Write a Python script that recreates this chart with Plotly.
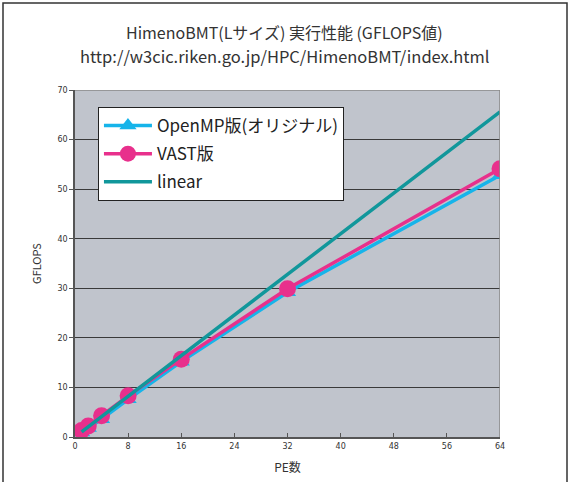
import plotly.graph_objects as go

pe = [1, 2, 4, 8, 16, 32, 64]
openmp = [0.9, 1.8, 3.6, 7.6, 15.2, 29.2, 52.8]
vast = [1.3, 2.2, 4.3, 8.3, 15.7, 29.9, 54.1]
linear = [1.03, 2.05, 4.1, 8.2, 16.4, 32.8, 65.6]
x_ticks = [0, 8, 16, 24, 32, 40, 48, 56, 64]
y_ticks = [0, 10, 20, 30, 40, 50, 60, 70]

FONT = "Noto Sans CJK JP"

fig = go.Figure()
fig.add_trace(go.Scatter(
    x=pe, y=openmp, name="OpenMP版(オリジナル)", mode="lines+markers",
    legendgroup="a",
    line=dict(color="#16b4ea", width=3.5),
    marker=dict(symbol="triangle-up", size=15, color="#16b4ea"),
))
fig.add_trace(go.Scatter(
    x=pe, y=vast, name="VAST版", mode="lines+markers",
    legendgroup="b",
    line=dict(color="#e8308c", width=3.5),
    marker=dict(symbol="circle", size=17, color="#e8308c"),
))
fig.add_trace(go.Scatter(
    x=pe, y=linear, name="linear", mode="lines",
    legendgroup="c",
    line=dict(color="#11979b", width=3.5),
))

fig.update_layout(
    width=569, height=482,
    margin=dict(l=75, r=69, t=90, b=45),
    paper_bgcolor="white",
    plot_bgcolor="#c0c4cc",
    font=dict(family=FONT, color="#222"),
    showlegend=True,
    legend=dict(
        x=0.054, y=0.951, xanchor="left", yanchor="top",
        bgcolor="white", bordercolor="#222", borderwidth=1,
        font=dict(size=17, family=FONT, color="#222"),
        tracegroupgap=3, itemwidth=48,
    ),
    xaxis=dict(
        range=[0, 64], tickvals=x_ticks, ticktext=[str(v) for v in x_ticks],
        showgrid=False, zeroline=False, automargin=False,
        showline=True, linecolor="#555", linewidth=2, mirror=False,
        ticks="inside", ticklen=4, tickcolor="#555",
        tickfont=dict(size=8, color="#333", family="DejaVu Sans"),
        title=dict(text="PE数", font=dict(size=12, color="#333"), standoff=14),
    ),
    yaxis=dict(
        range=[0, 70], tickvals=y_ticks, ticktext=[str(v) for v in y_ticks],
        showgrid=True, gridcolor="#3a3a3a", gridwidth=1.2, zeroline=False,
        automargin=False,
        showline=True, linecolor="#555", linewidth=1.5,
        ticks="outside", ticklen=4, tickcolor="#555",
        tickfont=dict(size=8, color="#333", family="DejaVu Sans"),
        title=dict(text="GFLOPS", font=dict(size=11, color="#333"), standoff=14),
    ),
    annotations=[
        dict(text="HimenoBMT(Lサイズ) 実行性能 (GFLOPS値)", xref="paper", yref="paper",
             x=0.5, y=1, xanchor="center", yanchor="middle", yshift=58,
             xshift=-(75 - 69) / 2,
             showarrow=False, font=dict(size=16, color="#333", family=FONT)),
        dict(text="http://w3cic.riken.go.jp/HPC/HimenoBMT/index.html", xref="paper", yref="paper",
             x=0.5, y=1, xanchor="center", yanchor="middle", yshift=34,
             xshift=-(75 - 69) / 2,
             showarrow=False, font=dict(size=16.5, color="#333", family=FONT)),
    ],
    shapes=[
        dict(type="rect", xref="paper", yref="paper",
             x0=-72 / 425, x1=1 + 67 / 425, y0=-48 / 347, y1=1 + 87 / 347,
             line=dict(color="#333", width=1.5), layer="below"),
        dict(type="line", xref="x", yref="paper", x0=64, x1=64, y0=0, y1=1,
             line=dict(color="#888", width=1.5)),
        dict(type="line", xref="paper", yref="y", x0=0, x1=1, y0=70, y1=70,
             line=dict(color="#888", width=1.5)),
    ],
)

fig.write_html("out.html", config={"displayModeBar": False},
               post_script="document.body.style.margin='0';")
